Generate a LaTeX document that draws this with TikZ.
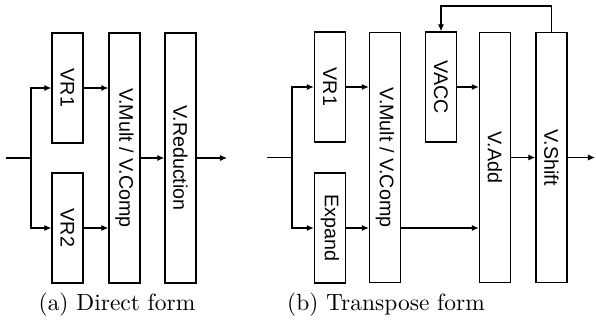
\documentclass[tikz,border=0pt]{standalone}
\usepackage{fontspec}
\setsansfont{Liberation Sans}
\usepackage{graphicx}
\usetikzlibrary{arrows.meta}
\newcommand{\vlabel}[1]{\rotatebox{-90}{#1}}

\begin{document}
\begin{tikzpicture}[
    x=0.015cm, y=-0.015cm,
    >={Latex[length=3pt,width=2.6pt]},
    unit/.style={draw, line width=0.6pt, inner sep=0pt, minimum width=4.65mm, font=\sffamily\fontsize{8.4}{10}\selectfont},
    long unit/.style={unit, minimum height=37.5mm},
    short unit/.style={unit, minimum height=16.5mm},
    wire/.style={line width=0.45pt}
]
    \useasboundingbox (0,0) rectangle (596,324);

    % (a) Direct form
    \node[short unit] (VR1a) at (67.5, 88) {\vlabel{VR1}};
    \node[short unit] (VR2a) at (67.5, 228) {\vlabel{VR2}};
    \node[long unit] (MultA) at (124.5, 158) {\vlabel{V.Mult / V.Comp}};
    \node[long unit] (Red) at (180.5, 158) {\vlabel{V.Reduction}};
    \coordinate (inA) at (6, 158);
    \coordinate (splitA) at (31, 158);
    \coordinate (outA) at (227, 158);
    \node (capA) at (117, 305) {(a) Direct form};

    \draw[wire] (inA) -- (splitA);
    \draw[wire, ->] (splitA) |- (VR1a.west);
    \draw[wire, ->] (splitA) |- (VR2a.west);
    \draw[wire, ->] (VR1a.east) -- (VR1a.east -| MultA.west);
    \draw[wire, ->] (VR2a.east) -- (VR2a.east -| MultA.west);
    \draw[wire, ->] (MultA) -- (Red);
    \draw[wire, ->] (Red.east) -- (outA);

    % (b) Transpose form
    \node[short unit] (VR1b) at (330, 87) {\vlabel{VR1}};
    \node[short unit] (Exp) at (330, 228) {\vlabel{Expand}};
    \node[long unit] (MultB) at (385, 157.5) {\vlabel{V.Mult / V.Comp}};
    \node[short unit] (Acc) at (441, 87) {\vlabel{VACC}};
    \node[long unit] (Add) at (495, 157.5) {\vlabel{V.Add}};
    \node[long unit] (Shift) at (551.5, 157.5) {\vlabel{V.Shift}};
    \coordinate (inB) at (267, 157.5);
    \coordinate (splitB) at (292, 157.5);
    \coordinate (outB) at (595, 157.5);
    \coordinate (fb) at (441, 6);
    \node (capB) at (386, 305) {(b) Transpose form};

    \draw[wire] (inB) -- (splitB);
    \draw[wire, ->] (splitB) |- (VR1b.west);
    \draw[wire, ->] (splitB) |- (Exp.west);
    \draw[wire, ->] (VR1b.east) -- (VR1b.east -| MultB.west);
    \draw[wire, ->] (Exp.east) -- (Exp.east -| MultB.west);
    \draw[wire, ->] (Exp.east -| MultB.east) -- (Exp.east -| Add.west);
    \draw[wire, ->] (Acc.east) -- (Acc.east -| Add.west);
    \draw[wire, ->] (Add) -- (Shift);
    \draw[wire, ->] (Shift.east) -- (outB);
    \draw[wire, ->] (Shift.north) |- (fb) -- (Acc.north); % feedback
\end{tikzpicture}
\end{document}
